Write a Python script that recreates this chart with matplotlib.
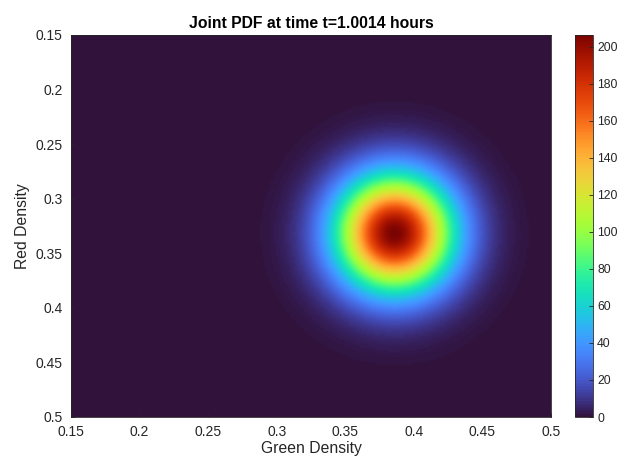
import numpy as np
import matplotlib
matplotlib.use("Agg")
import matplotlib.pyplot as plt

plt.rcParams['font.family'] = ['Liberation Sans', 'DejaVu Sans']

# grid of the joint pdf (green density on x, red density on y)
green_lim = [0.15, 0.5]
red_lim = [0.15, 0.5]
n_grid = 241

# fitted blob
peak_green = 0.3863
peak_red = 0.3315
sigma_green = 0.0295
sigma_red = 0.0365
peak_value = 206.5

x_ticks = [0.15, 0.2, 0.25, 0.3, 0.35, 0.4, 0.45, 0.5]
y_ticks = [0.15, 0.2, 0.25, 0.3, 0.35, 0.4, 0.45, 0.5]
cbar_ticks = [0, 20, 40, 60, 80, 100, 120, 140, 160, 180, 200]

g = np.linspace(green_lim[0], green_lim[1], n_grid)
r = np.linspace(red_lim[0], red_lim[1], n_grid)
G, R = np.meshgrid(g, r)
pdf = peak_value * np.exp(-0.5 * (((G - peak_green) / sigma_green) ** 2
                                  + ((R - peak_red) / sigma_red) ** 2))

fig = plt.figure(figsize=(6.19, 4.57), dpi=100)
ax = fig.add_axes([71 / 619, 1 - 417 / 457, 480 / 619, 382 / 457])
cax = fig.add_axes([575 / 619, 1 - 417 / 457, 18 / 619, 382 / 457])

im = ax.imshow(pdf, cmap='turbo', origin='upper', aspect='auto',
               extent=[green_lim[0], green_lim[1], red_lim[1], red_lim[0]],
               interpolation='bilinear', vmin=0, vmax=pdf.max())
ax.set_xlim(green_lim)
ax.set_ylim(red_lim[1], red_lim[0])
ax.set_xticks(x_ticks)
ax.set_xticklabels([f'{v:g}' for v in x_ticks])
ax.set_yticks(y_ticks)
ax.set_yticklabels([f'{v:g}' for v in y_ticks])
ax.tick_params(direction='in', length=3, width=0.6, color='#262626',
               labelsize=10, labelcolor='#262626')
ax.tick_params(axis='x', pad=5.5)
ax.tick_params(axis='y', pad=6)
for s in ax.spines.values():
    s.set_color('#262626')
    s.set_linewidth(0.6)

ax.set_xlabel('Green Density', fontsize=11.3, color='#262626', labelpad=1.5)
ax.set_ylabel('Red Density', fontsize=11.3, color='#262626', labelpad=4)
ax.set_title('Joint PDF at time t=1.0014 hours', fontsize=11.3,
             fontweight='bold', pad=5)

cb = fig.colorbar(im, cax=cax)
cb.set_ticks(cbar_ticks)
cb.ax.tick_params(direction='in', length=3, width=0.6, color='#262626',
                  labelsize=8.8, labelcolor='#262626', pad=3)
cb.outline.set_edgecolor('#262626')
cb.outline.set_linewidth(0.6)

fig.savefig('out.png', dpi=100)
